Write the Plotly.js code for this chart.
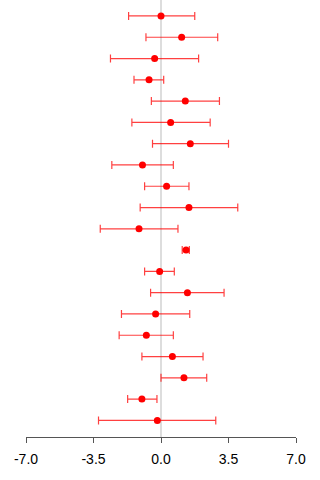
<!DOCTYPE html>
<html>
<head>
<meta charset="utf-8">
<script src="https://cdn.plot.ly/plotly-3.0.1.min.js"></script>
<style>
  html, body { margin: 0; padding: 0; background: #fff; }
  #chart { width: 320px; height: 480px; }
</style>
</head>
<body>
<div id="chart"></div>
<script>
// Row positions, top to bottom
const rows = [1, 2, 3, 4, 5, 6, 7, 8, 9, 10, 11, 12, 13, 14, 15, 16, 17, 18, 19, 20];

// Point estimates and interval bounds per row
const estimate = [0.00, 1.07, -0.33, -0.62, 1.26, 0.50, 1.52, -0.96, 0.29, 1.45,
                  -1.14, 1.30, -0.07, 1.37, -0.28, -0.76, 0.59, 1.19, -0.99, -0.19];
const lower    = [-1.68, -0.78, -2.62, -1.40, -0.50, -1.51, -0.44, -2.55, -0.85, -1.08,
                  -3.15, 1.10, -0.85, -0.54, -2.05, -2.17, -0.99, 0.00, -1.73, -3.24];
const upper    = [1.75, 2.94, 1.95, 0.14, 3.03, 2.55, 3.50, 0.64, 1.45, 3.98,
                  0.88, 1.47, 0.69, 3.27, 1.49, 0.64, 2.18, 2.37, -0.21, 2.84];

// Axis ticks
const tickValues = [-7, -3.5, 0, 3.5, 7];
const tickLabels = ['-7.0', '-3.5', '0.0', '3.5', '7.0'];

const plus  = upper.map((u, i) => u - estimate[i]);
const minus = lower.map((l, i) => estimate[i] - l);

const trace = {
  type: 'scatter',
  mode: 'markers',
  x: estimate,
  y: rows,
  marker: { color: '#ff0000', size: 7 },
  error_x: {
    type: 'data',
    symmetric: false,
    array: plus,
    arrayminus: minus,
    color: 'rgba(255,0,0,0.75)',
    thickness: 1.2,
    width: 4
  },
  hoverinfo: 'none'
};

const layout = {
  width: 320,
  height: 480,
  margin: { l: 26, r: 24, t: 0, b: 43 },
  paper_bgcolor: '#ffffff',
  plot_bgcolor: '#ffffff',
  showlegend: false,
  font: { family: 'Liberation Sans, Arial, sans-serif', size: 14, color: '#000' },
  xaxis: {
    range: [-7, 7],
    tickvals: tickValues,
    ticktext: tickLabels,
    showgrid: false,
    zeroline: true,
    zerolinecolor: '#dddddd',
    zerolinewidth: 2,
    showline: true,
    linecolor: '#555555',
    linewidth: 1,
    ticks: 'outside',
    ticklen: 5,
    tickcolor: '#555555',
    ticklabelstandoff: 4,
    tickfont: { size: 14, color: '#000' },
    fixedrange: true
  },
  yaxis: {
    range: [20.78, 0.25],
    visible: false,
    showgrid: false,
    zeroline: false,
    fixedrange: true
  }
};

Plotly.newPlot('chart', [trace], layout, { displayModeBar: false, staticPlot: true });
</script>
</body>
</html>
